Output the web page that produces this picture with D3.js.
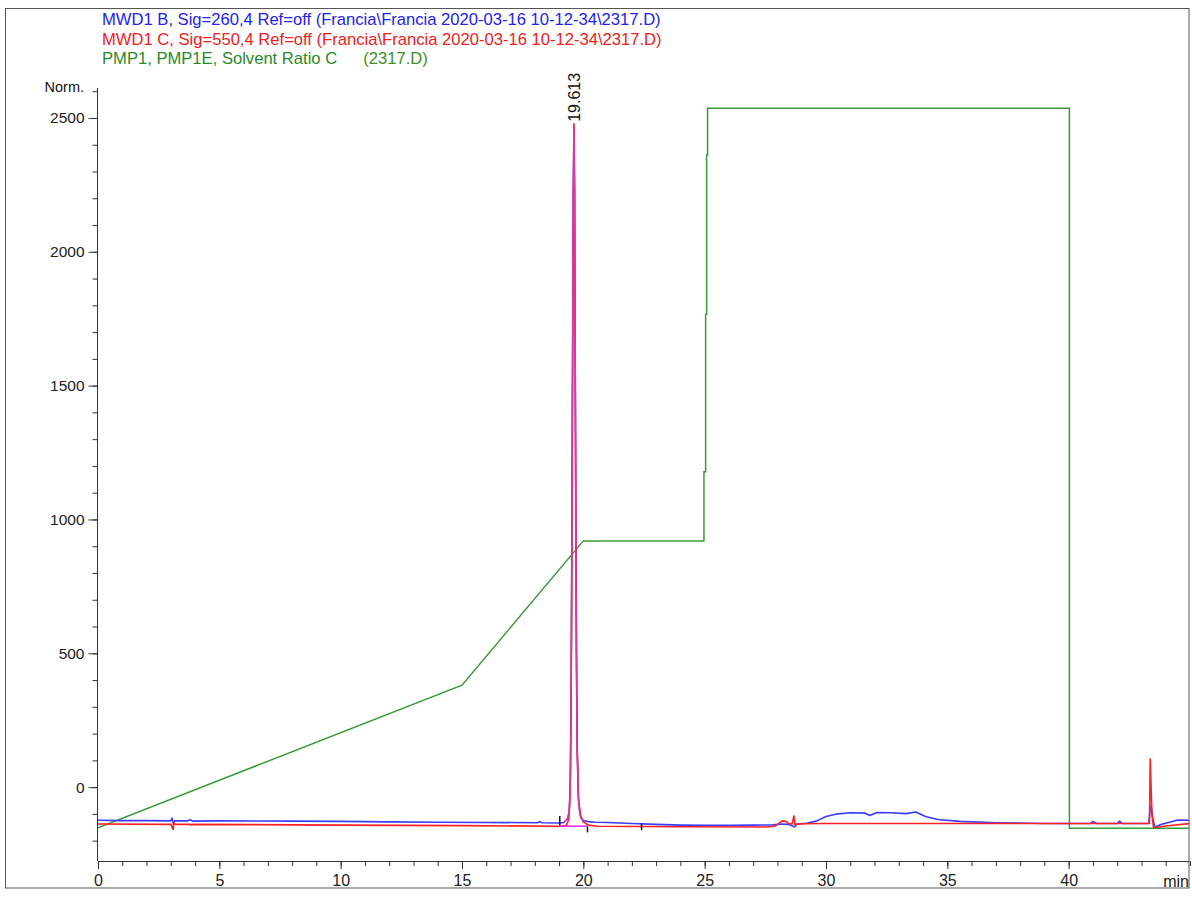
<!DOCTYPE html>
<html>
<head>
<meta charset="utf-8">
<script src="https://cdn.jsdelivr.net/npm/d3@7/dist/d3.min.js"></script>
<style>
  html, body { margin: 0; padding: 0; background: #fff; }
  svg { display: block; font-family: "Liberation Sans", Arial, sans-serif; }
</style>
</head>
<body>
<svg id="chart" width="1192" height="899"></svg>
<script>
// ---- Signal legend ----
const legendLines = [
  { parts: [{ text: "MWD1 B, Sig=260,4 Ref=off (Francia\\Francia 2020-03-16 10-12-34\\2317.D)", color: "#2323f0" }] },
  { parts: [{ text: "MWD1 C, Sig=550,4 Ref=off (Francia\\Francia 2020-03-16 10-12-34\\2317.D)", color: "#f01c1c" }] },
  { parts: [{ text: "PMP1, PMP1E, Solvent Ratio C", color: "#2a8a2a" }, { text: "(2317.D)", color: "#3f8f1f", gap: 26 }] }
];

// ---- Axis ticks ----
const xMajorTicks = [0, 5, 10, 15, 20, 25, 30, 35, 40];
const xMinorTicks = d3.range(0, 46, 1);
const yMajorTicks = [0, 500, 1000, 1500, 2000, 2500];
const yMinorTicks = d3.range(-200, 2601, 100);
const xUnit = "min";
const yUnit = "Norm.";

// ---- MWD1 B, 260 nm (time in min, response) ----
const signalB = [
  [0, -124], [1, -125], [2, -125], [3.0, -126], [3.05, -116], [3.1, -134], [3.15, -126],
  [3.7, -126], [3.8, -122], [3.9, -127], [5, -126], [8, -127], [10, -128], [12, -130],
  [14, -131], [16, -132], [18.1, -133], [18.2, -129], [18.3, -133], [19.0, -134],
  [19.2, -132], [19.35, -118], [19.42, -90], [19.47, 40], [19.51, 560], [19.55, 1450],
  [19.585, 2200], [19.613, 2465], [19.64, 2230], [19.67, 1500], [19.7, 760], [19.74, 180],
  [19.8, -40], [19.85, -95], [19.9, -115], [20.0, -125], [20.2, -129], [20.5, -131],
  [21, -132], [22, -136], [23, -139], [24, -142], [25, -143], [26, -143], [27, -142],
  [27.8, -141], [28.2, -138], [28.5, -140], [28.7, -149], [28.8, -138], [29.2, -135],
  [29.6, -127], [30.0, -110], [30.4, -101], [31.0, -96], [31.6, -97], [31.8, -106],
  [32.1, -95], [32.7, -96], [33.3, -99], [33.7, -93], [34.1, -110], [34.6, -121],
  [35.5, -128], [37, -133], [39, -136], [40.9, -136], [41.0, -128], [41.15, -136],
  [42.0, -136], [42.1, -127], [42.2, -136], [43.3, -136], [43.35, -90], [43.4, -67],
  [43.45, -110], [43.55, -150], [43.8, -140], [44.5, -123], [45, -124]
];

// ---- MWD1 C, 550 nm ----
const signalC = [
  [0, -138], [3.0, -139], [3.05, -150], [3.1, -158], [3.12, -130], [3.17, -139],
  [3.8, -139], [3.85, -142], [3.9, -139], [10, -142], [15, -144], [19.0, -146],
  [19.3, -144], [19.4, -120], [19.45, -40], [19.49, 250], [19.51, 560], [19.54, 1150],
  [19.57, 1800], [19.59, 2220], [19.613, 2478], [19.635, 2250], [19.66, 1700],
  [19.69, 1050], [19.72, 450], [19.75, 120], [19.8, -50], [19.9, -110], [20.0, -130],
  [20.2, -142], [20.6, -146], [24, -148], [27.5, -149], [27.9, -146], [28.2, -126],
  [28.35, -128], [28.45, -136], [28.6, -138], [28.68, -108], [28.72, -140], [29.0, -137],
  [30, -136], [35, -136], [40, -136], [43.33, -136], [43.36, 105], [43.43, -100],
  [43.5, -152], [44, -145], [45, -136]
];

// ---- PMP1 solvent ratio C programme ----
const solventRatioC = [
  [0, -152], [15, 381], [20, 920], [24.97, 920], [24.97, 1178], [25.04, 1178],
  [25.04, 1767], [25.08, 1767], [25.08, 2362], [25.12, 2362], [25.12, 2536],
  [40.03, 2536], [40.03, -154], [45, -154]
];

// ---- Integration of the 19.613 min peak ----
const peakTime = 19.613;
const peakApex = 2478;
const integrationWindow = [19.03, 20.17];
const peakBaseline = [[19.03, -146], [20.17, -146]];
const integrationMarks = [[19.03, -108, -142], [20.17, -148, -169], [22.4, -136, -161]];

// ---- Layout ----
const svg = d3.select("#chart");
const plot = { left: 98, right: 1189, top: 88, bottom: 861 };

const x = d3.scaleLinear().domain([0, 45]).range([plot.left, 1190]);
const y = d3.scaleLinear().domain([-276, 2612]).range([plot.bottom, plot.top]);

// Outer frame
svg.append("rect")
  .attr("x", 5.5).attr("y", 8.5)
  .attr("width", 1183.5).attr("height", 879.5)
  .attr("fill", "none").attr("stroke", "#555").attr("stroke-width", 1);

// Legend
legendLines.forEach((line, i) => {
  const t = svg.append("text")
    .attr("x", 102).attr("y", 25 + i * 19.5)
    .attr("font-size", 16.6);
  line.parts.forEach(p => {
    const ts = t.append("tspan").attr("fill", p.color).text(p.text);
    if (p.gap) ts.attr("dx", p.gap);
  });
});

// Clip for traces
svg.append("clipPath").attr("id", "plotClip")
  .append("rect")
  .attr("x", plot.left).attr("y", plot.top - 40)
  .attr("width", plot.right - plot.left).attr("height", plot.bottom - plot.top + 40);

// Axes
const axisColor = "#333";
const xMinor = svg.append("g").attr("transform", `translate(0,${plot.bottom})`)
  .call(d3.axisBottom(x).tickValues(xMinorTicks).tickSize(5).tickSizeOuter(0).tickFormat(""));
const xMajor = svg.append("g").attr("transform", `translate(0,${plot.bottom})`)
  .call(d3.axisBottom(x).tickValues(xMajorTicks).tickSize(8).tickSizeOuter(0).tickPadding(6)
    .tickFormat(d3.format("d")));
const yMinor = svg.append("g").attr("transform", `translate(${plot.left - 0.5},0)`)
  .call(d3.axisLeft(y).tickValues(yMinorTicks).tickSize(5).tickSizeOuter(0).tickFormat(""));
const yMajor = svg.append("g").attr("transform", `translate(${plot.left - 0.5},0)`)
  .call(d3.axisLeft(y).tickValues(yMajorTicks).tickSize(9).tickSizeOuter(0).tickPadding(4)
    .tickFormat(d3.format("d")));

[xMinor, xMajor, yMinor, yMajor].forEach(g => {
  g.selectAll("line").attr("stroke", axisColor);
  g.selectAll("path.domain").attr("stroke", axisColor);
  g.selectAll("text").attr("fill", "#222").attr("font-family", "Liberation Sans, Arial, sans-serif");
});
xMajor.selectAll("text").attr("font-size", 16);
yMajor.selectAll("text").attr("font-size", 15.5);
xMajor.select("path.domain").attr("d", `M${plot.left},0.5H${plot.right}`);
xMinor.select("path.domain").remove();
yMinor.select("path.domain").remove();
yMajor.select("path.domain").attr("d", `M0,${plot.top}V${plot.bottom}`);

// Unit labels
svg.append("text").attr("x", 1189).attr("y", 887).attr("text-anchor", "end")
  .attr("font-size", 16).attr("fill", "#222").text(xUnit);
svg.append("text").attr("x", 84).attr("y", 92).attr("text-anchor", "end")
  .attr("font-size", 14.5).attr("fill", "#111").text(yUnit);

// Traces
const line = d3.line().x(d => x(d[0])).y(d => y(d[1]));
const traces = svg.append("g").attr("clip-path", "url(#plotClip)");

traces.append("path").datum(solventRatioC)
  .attr("d", line).attr("fill", "none").attr("stroke", "#3a9a3a").attr("stroke-width", 1.5);

traces.append("path").datum(signalB)
  .attr("d", line).attr("fill", "none").attr("stroke", "#3b3bff").attr("stroke-width", 1.6)
  .attr("stroke-linejoin", "round");

traces.append("path").datum(signalC)
  .attr("d", line).attr("fill", "none").attr("stroke", "#ff2020").attr("stroke-width", 1.6)
  .attr("stroke-linejoin", "round");

// Integrated peak and its baseline
const integrated = signalB.filter(d => d[0] >= integrationWindow[0] && d[0] <= integrationWindow[1]);
traces.append("path").datum(integrated)
  .attr("d", line).attr("fill", "none").attr("stroke", "#d23cc8").attr("stroke-width", 1.3)
  .attr("stroke-opacity", 0.85);
traces.append("path").datum(peakBaseline)
  .attr("d", line).attr("fill", "none").attr("stroke", "#ee22ee").attr("stroke-width", 1.5);

// Integration event marks
svg.append("g").selectAll("line").data(integrationMarks).join("line")
  .attr("x1", d => x(d[0])).attr("x2", d => x(d[0]))
  .attr("y1", d => y(d[1])).attr("y2", d => y(d[2]))
  .attr("stroke", "#111").attr("stroke-width", 1.5);

// Retention time label
svg.append("text")
  .attr("transform", `translate(${x(peakTime) + 6},${y(peakApex) - 2}) rotate(-90)`)
  .attr("font-size", 16).attr("fill", "#111")
  .text(peakTime.toFixed(3));
</script>
</body>
</html>
